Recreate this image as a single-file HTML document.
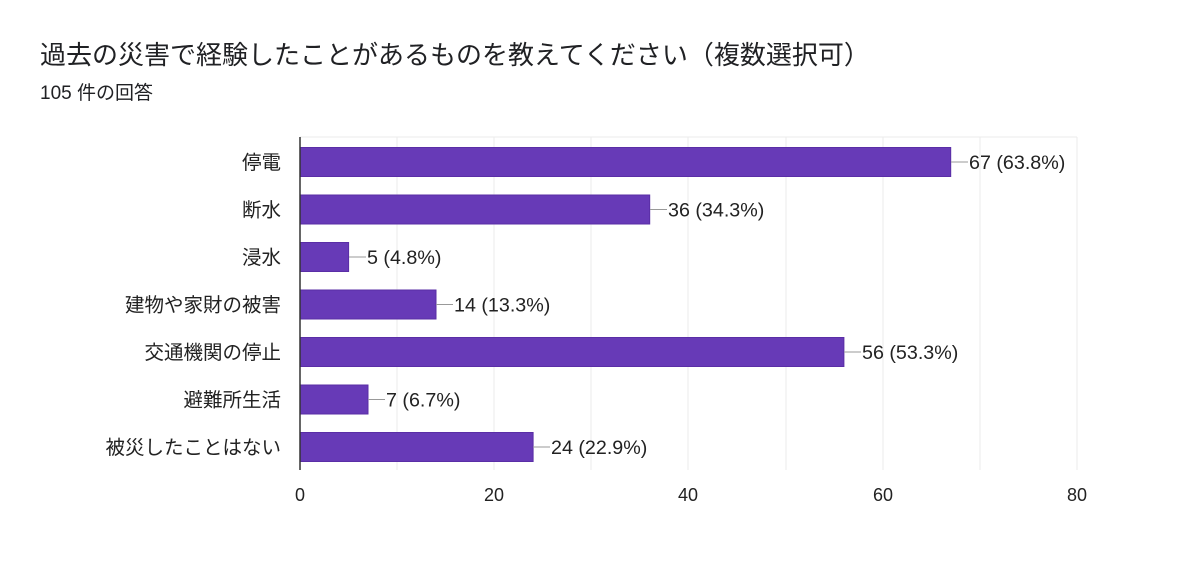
<!DOCTYPE html>
<html><head><meta charset="utf-8"><style>
body{margin:0;background:#fff;}
svg{display:block;font-family:"Liberation Sans","Noto Sans CJK JP",sans-serif;}
</style></head><body>
<svg width="1200" height="570" xmlns="http://www.w3.org/2000/svg">
<rect width="1200" height="570" fill="#fff"/>
<text x="40" y="64" font-size="26" fill="#202124">過去の災害で経験したことがあるものを教えてください（複数選択可）</text>
<text x="40" y="99" font-size="19" fill="#202124">105 件の回答</text>
<g stroke="#ebebeb" stroke-width="1">
<line x1="397" y1="137" x2="397" y2="470"/><line x1="494" y1="137" x2="494" y2="470"/>
<line x1="591" y1="137" x2="591" y2="470"/><line x1="688" y1="137" x2="688" y2="470"/>
<line x1="786" y1="137" x2="786" y2="470"/><line x1="883" y1="137" x2="883" y2="470"/>
<line x1="980" y1="137" x2="980" y2="470"/><line x1="1077" y1="137" x2="1077" y2="470"/>
<line x1="300" y1="137" x2="1077" y2="137"/>
</g>
<g fill="#673ab7" stroke="#5a2ea6" stroke-width="1">
<rect x="300" y="147.5" width="650.7" height="29"/>
<rect x="300" y="195" width="349.7" height="29"/>
<rect x="300" y="242.5" width="48.6" height="29"/>
<rect x="300" y="290" width="136" height="29"/>
<rect x="300" y="337.5" width="543.9" height="29"/>
<rect x="300" y="385" width="68" height="29"/>
<rect x="300" y="432.5" width="233.1" height="29"/>
</g>
<line x1="300" y1="137" x2="300" y2="470" stroke="#333" stroke-width="1.5"/>
<g stroke="#999" stroke-width="1">
<line x1="951" y1="162" x2="968" y2="162"/><line x1="650" y1="209.5" x2="667" y2="209.5"/>
<line x1="349" y1="257" x2="366" y2="257"/><line x1="436" y1="304.5" x2="453" y2="304.5"/>
<line x1="844" y1="352" x2="861" y2="352"/><line x1="368" y1="399.5" x2="385" y2="399.5"/>
<line x1="533" y1="447" x2="550" y2="447"/>
</g>
<g font-size="19.7" fill="#222">
<text x="969" y="169">67 (63.8%)</text>
<text x="668" y="216.5">36 (34.3%)</text>
<text x="367" y="264">5 (4.8%)</text>
<text x="454" y="311.5">14 (13.3%)</text>
<text x="862" y="359">56 (53.3%)</text>
<text x="386" y="406.5">7 (6.7%)</text>
<text x="551" y="454">24 (22.9%)</text>
</g>
<g font-size="19.5" fill="#222" text-anchor="end">
<text x="281" y="169">停電</text>
<text x="281" y="216.5">断水</text>
<text x="281" y="264">浸水</text>
<text x="281" y="311.5">建物や家財の被害</text>
<text x="281" y="359">交通機関の停止</text>
<text x="281" y="406.5">避難所生活</text>
<text x="281" y="454">被災したことはない</text>
</g>
<g font-size="18" fill="#222" text-anchor="middle">
<text x="300" y="501">0</text><text x="494" y="501">20</text>
<text x="688" y="501">40</text><text x="883" y="501">60</text><text x="1077" y="501">80</text>
</g>
</svg>
</body></html>
